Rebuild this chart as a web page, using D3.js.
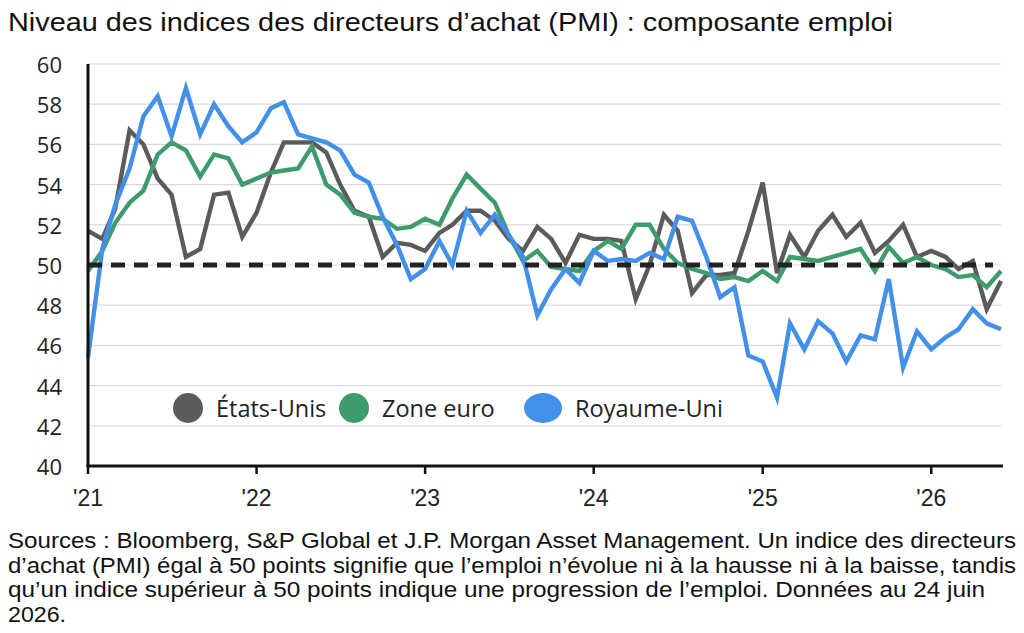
<!DOCTYPE html>
<html>
<head>
<meta charset="utf-8">
<script src="https://cdn.jsdelivr.net/npm/d3@7"></script>
<style>
  html, body { margin: 0; padding: 0; background: #fff; }
  svg { display: block; }
</style>
</head>
<body>
<svg id="chart" width="1024" height="633"></svg>
<script>
// ---- Data ----
const startMonth = "2021-01";
const endMonth = "2026-06";
const seriesNames = ["États-Unis", "Zone euro", "Royaume-Uni"];
const usValues = [51.7, 51.3, 52.8, 56.7, 56.0, 54.3, 53.5, 50.4, 50.8, 53.5, 53.6, 51.4,
  52.6, 54.6, 56.1, 56.1, 56.1, 55.6, 54.0, 52.7, 52.4, 50.4, 51.1, 51.0,
  50.7, 51.6, 52.0, 52.7, 52.7, 52.2, 51.3, 50.7, 51.9, 51.3, 50.1, 51.5,
  51.3, 51.3, 51.2, 48.3, 50.0, 52.5, 51.7, 48.6, 49.5, 49.5, 49.6, 51.7,
  54.1, 49.6, 51.5, 50.4, 51.7, 52.5, 51.4, 52.1, 50.6, 51.2, 52.0, 50.4,
  50.7, 50.4, 49.8, 50.2, 47.8, 49.2];
const euroValues = [49.7, 50.7, 52.1, 53.1, 53.7, 55.5, 56.1, 55.7, 54.4, 55.5, 55.3, 54.0,
  54.3, 54.6, 54.7, 54.8, 55.9, 54.0, 53.5, 52.6, 52.4, 52.3, 51.8, 51.9,
  52.3, 52.0, 53.3, 54.5, 53.8, 53.1, 51.5, 50.2, 50.7, 49.9, 49.8, 49.7,
  50.7, 51.2, 50.8, 52.0, 52.0, 50.8, 50.1, 49.8, 49.6, 49.3, 49.4, 49.2,
  49.7, 49.2, 50.4, 50.3, 50.2, 50.4, 50.6, 50.8, 49.7, 50.9, 50.1, 50.4,
  50.0, 49.8, 49.4, 49.5, 48.9, 49.7];
const ukValues = [45.4, 50.8, 53.0, 54.8, 57.4, 58.4, 56.4, 58.8, 56.5, 58.0, 56.9, 56.1,
  56.6, 57.8, 58.1, 56.5, 56.3, 56.1, 55.7, 54.5, 54.1, 52.4, 51.0, 49.3,
  49.8, 51.2, 50.0, 52.7, 51.6, 52.5, 51.5, 50.4, 47.5, 48.8, 49.8, 49.1,
  50.7, 50.2, 50.3, 50.2, 50.6, 50.3, 52.4, 52.2, 50.4, 48.4, 48.9, 45.5,
  45.2, 43.4, 47.1, 45.8, 47.2, 46.6, 45.2, 46.5, 46.3, 49.3, 44.9, 46.7,
  45.8, 46.4, 46.8, 47.8, 47.1, 46.8];
const yTicks = [40, 42, 44, 46, 48, 50, 52, 54, 56, 58, 60];
const xTickLabels = ["'21", "'22", "'23", "'24", "'25", "'26"];
const referenceLevel = 50;
const titleText = "Niveau des indices des directeurs d’achat (PMI) : composante emploi";
const noteLines = [
  "Sources : Bloomberg, S&P Global et J.P. Morgan Asset Management. Un indice des directeurs",
  "d’achat (PMI) égal à 50 points signifie que l’emploi n’évolue ni à la hausse ni à la baisse, tandis",
  "qu’un indice supérieur à 50 points indique une progression de l’emploi. Données au 24 juin",
  "2026."
];

// ---- Build ----
(function () {
const parseM = d3.timeParse("%Y-%m");
const months = d3.timeMonth.range(parseM(startMonth), d3.timeMonth.offset(parseM(endMonth), 1));
const seriesValues = [usValues, euroValues, ukValues];
const colors = ["#5b5b5b", "#3d9b6c", "#4290e8"];

const svg = d3.select("#chart");
const pLeft = 88, pRight = 1001, pTop = 64, pBottom = 466;

const x = d3.scaleTime().domain([months[0], months[months.length - 1]]).range([pLeft, pRight]);
const y = d3.scaleLinear().domain([40, 60]).range([pBottom, pTop]);

// Title
svg.append("text")
  .attr("x", 8).attr("y", 31)
  .attr("font-family", "'Liberation Sans', Arial, sans-serif")
  .attr("font-size", 25.5).attr("fill", "#111")
  .attr("textLength", 885).attr("lengthAdjust", "spacingAndGlyphs")
  .text(titleText);

// Gridlines
svg.append("g").selectAll("line").data(yTicks.filter(t => t > 40)).join("line")
  .attr("x1", pLeft).attr("x2", pRight)
  .attr("y1", d => y(d)).attr("y2", d => y(d))
  .attr("stroke", "#d9d9d9").attr("stroke-width", 1.2);

// Y tick labels
svg.append("g").selectAll("text").data(yTicks).join("text")
  .attr("x", 62).attr("y", d => y(d))
  .attr("text-anchor", "end").attr("dominant-baseline", "central")
  .attr("font-family", "'Open Sans', sans-serif").attr("font-size", 22).attr("fill", "#222")
  .text(d => d);

// Lines
const line = d3.line().x((d, i) => x(months[i])).y(d => y(d));
svg.append("g").selectAll("path").data(seriesValues).join("path")
  .attr("d", d => line(d))
  .attr("fill", "none")
  .attr("stroke", (d, i) => colors[i])
  .attr("stroke-width", 4.4)
  .attr("stroke-linejoin", "miter");

// Reference dashed line
svg.append("line")
  .attr("x1", pLeft).attr("x2", 993)
  .attr("y1", y(referenceLevel)).attr("y2", y(referenceLevel))
  .attr("stroke", "#222").attr("stroke-width", 5)
  .attr("stroke-dasharray", "14,9");

// Axes
const yearTicks = d3.timeYear.range(months[0], d3.timeMonth.offset(months[months.length - 1], 1));
svg.append("line")
  .attr("x1", pLeft).attr("x2", pLeft).attr("y1", pTop).attr("y2", pBottom)
  .attr("stroke", "#111").attr("stroke-width", 3);
svg.append("line")
  .attr("x1", pLeft - 1.5).attr("x2", pRight + 2).attr("y1", pBottom).attr("y2", pBottom)
  .attr("stroke", "#111").attr("stroke-width", 3);
svg.append("g").selectAll("line").data(yearTicks).join("line")
  .attr("x1", d => x(d)).attr("x2", d => x(d))
  .attr("y1", pBottom).attr("y2", pBottom + 8)
  .attr("stroke", "#111").attr("stroke-width", 2.5);
svg.append("g").selectAll("text").data(yearTicks).join("text")
  .attr("x", d => x(d)).attr("y", 506)
  .attr("text-anchor", "middle")
  .attr("font-family", "'Liberation Sans Narrow', 'Liberation Sans', Arial, sans-serif")
  .attr("font-size", 23).attr("fill", "#222")
  .text((d, i) => xTickLabels[i]);

// Legend
const legendItems = [
  { cx: 188, rx: 15, tx: 216 },
  { cx: 354, rx: 15, tx: 382 },
  { cx: 543, rx: 19, tx: 575 }
];
const lg = svg.append("g");
legendItems.forEach((it, i) => {
  lg.append("ellipse").attr("cx", it.cx).attr("cy", 408).attr("rx", it.rx).attr("ry", 15)
    .attr("fill", colors[i]);
  lg.append("text").attr("x", it.tx).attr("y", 408)
    .attr("dominant-baseline", "central")
    .attr("font-family", "'Open Sans', sans-serif").attr("font-size", 23.5).attr("fill", "#222")
    .text(seriesNames[i]);
});

// Footnote
const noteWidths = [1008, 1008, 977, 58];
svg.append("g").selectAll("text").data(noteLines).join("text")
  .attr("x", 8).attr("y", (d, i) => 548 + i * 24.5)
  .attr("font-family", "'Liberation Sans Narrow', 'Liberation Sans', Arial, sans-serif")
  .attr("font-size", 22).attr("fill", "#111")
  .attr("textLength", (d, i) => noteWidths[i]).attr("lengthAdjust", "spacingAndGlyphs")
  .text(d => d);
})();
</script>
</body>
</html>
